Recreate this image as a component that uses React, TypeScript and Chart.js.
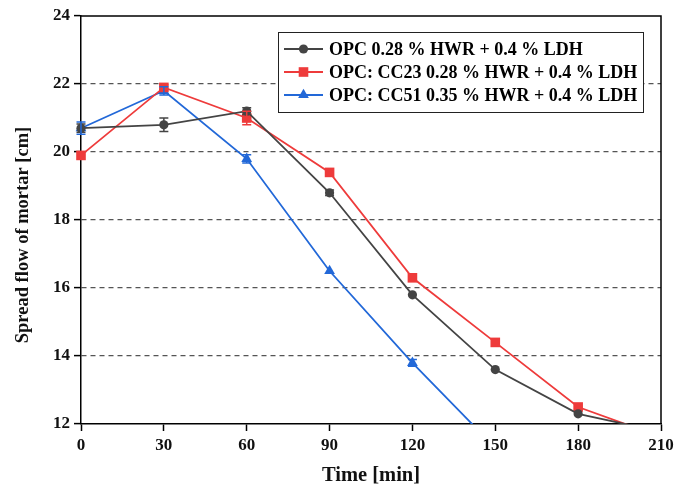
import React, { useEffect, useRef } from "react";
import { Chart, registerables } from "chart.js";

Chart.register(...registerables);

const times = [0, 30, 60, 90, 120, 150, 180, 210];
const seriesLabels = [
  "OPC 0.28 % HWR + 0.4 % LDH",
  "OPC: CC23 0.28 % HWR + 0.4 % LDH",
  "OPC: CC51 0.35 % HWR + 0.4 % LDH",
];
const opcValues = [20.7, 20.8, 21.2, 18.8, 15.8, 13.6, 12.3, 11.77];
const cc23Values = [19.9, 21.9, 21.0, 19.4, 16.3, 14.4, 12.5, 11.62];
const cc51Values = [20.7, 21.8, 19.8, 16.5, 13.8, 11.3];
const opcErrors = [0.12, 0.2, 0.1, 0.08, 0, 0, 0, 0];
const cc23Errors = [0, 0.08, 0.2, 0, 0, 0, 0, 0];
const cc51Errors = [0.18, 0.12, 0.12, 0, 0.1, 0];
const yTicks = [12, 14, 16, 18, 20, 22, 24];
const xTicks = [0, 30, 60, 90, 120, 150, 180, 210];
const xTitle = "Time [min]";
const yTitle = "Spread flow of mortar [cm]";

const colors = ["#444444", "#ee3b3b", "#2268d8"];
const pointStyles = ["circle", "rect", "triangle"];
const pointRadii = [4.6, 6.8, 6.2];
const FONT = "'Liberation Serif', 'Times New Roman', serif";

function toPoints(vals: number[]) {
  return vals.map((v, i) => ({ x: times[i], y: v }));
}

const errorBarPlugin = {
  id: "errorBars",
  afterDatasetsDraw(chart: any) {
    const ctx = chart.ctx;
    const xs = chart.scales.x;
    const ys = chart.scales.y;
    const errs = [opcErrors, cc23Errors, cc51Errors];
    chart.data.datasets.forEach((ds: any, di: number) => {
      const e = errs[di];
      ctx.save();
      ctx.strokeStyle = colors[di];
      ctx.lineWidth = 1.5;
      ds.data.forEach((p: any, i: number) => {
        const err = e[i];
        if (!err || p.y < 12) return;
        const px = xs.getPixelForValue(p.x);
        const top = ys.getPixelForValue(p.y + err);
        const bot = ys.getPixelForValue(p.y - err);
        ctx.beginPath();
        ctx.moveTo(px, top);
        ctx.lineTo(px, bot);
        ctx.moveTo(px - 4.5, top);
        ctx.lineTo(px + 4.5, top);
        ctx.moveTo(px - 4.5, bot);
        ctx.lineTo(px + 4.5, bot);
        ctx.stroke();
      });
      ctx.restore();
    });
  },
};

function drawMarker(ctx: CanvasRenderingContext2D, style: string, x: number, y: number, r: number) {
  ctx.beginPath();
  if (style === "circle") {
    ctx.arc(x, y, r, 0, Math.PI * 2);
  } else if (style === "rect") {
    const s = Math.SQRT1_2 * r;
    ctx.rect(x - s, y - s, 2 * s, 2 * s);
  } else {
    const half = (r * Math.sqrt(3)) / 2;
    ctx.moveTo(x, y - r);
    ctx.lineTo(x + half, y + r / 2);
    ctx.lineTo(x - half, y + r / 2);
    ctx.closePath();
  }
  ctx.fill();
}

const boxLegendPlugin = {
  id: "boxLegend",
  afterDraw(chart: any) {
    const ctx = chart.ctx;
    const a = chart.chartArea;
    ctx.save();
    // plot frame
    ctx.strokeStyle = "#000";
    ctx.lineWidth = 1.5;
    ctx.beginPath();
    ctx.moveTo(a.left, a.top);
    ctx.lineTo(a.right, a.top);
    ctx.lineTo(a.right, a.bottom);
    ctx.stroke();
    // y title
    ctx.save();
    ctx.translate(23, 235);
    ctx.rotate(-Math.PI / 2);
    ctx.font = "bold 18.5px " + FONT;
    ctx.fillStyle = "#111";
    ctx.textAlign = "center";
    ctx.textBaseline = "middle";
    ctx.fillText(yTitle, 0, 0);
    ctx.restore();
    // legend
    const lx = 278, ly = 32, lw = 365, lh = 80;
    ctx.fillStyle = "#fff";
    ctx.fillRect(lx, ly, lw, lh);
    ctx.strokeStyle = "#222";
    ctx.lineWidth = 1;
    ctx.strokeRect(lx + 0.5, ly + 0.5, lw, lh);
    const rows = [49, 72, 95];
    ctx.font = "bold 18px " + FONT;
    ctx.textBaseline = "middle";
    seriesLabels.forEach((lab, i) => {
      const y = rows[i];
      ctx.strokeStyle = colors[i];
      ctx.lineWidth = 1.8;
      ctx.beginPath();
      ctx.moveTo(284, y);
      ctx.lineTo(323, y);
      ctx.stroke();
      ctx.fillStyle = colors[i];
      drawMarker(ctx, pointStyles[i], 303.5, y, pointRadii[i]);
      ctx.fillStyle = "#000";
      ctx.fillText(lab, 329, y + 1);
    });
    ctx.restore();
  },
};

export default function App() {
  const ref = useRef<HTMLCanvasElement | null>(null);
  useEffect(() => {
    document.body.style.margin = "0";
    const canvas = ref.current!;
    const datasets = [opcValues, cc23Values, cc51Values].map((vals, i) => ({
      label: seriesLabels[i],
      data: toPoints(vals),
      borderColor: colors[i],
      backgroundColor: colors[i],
      borderWidth: 1.8,
      pointStyle: pointStyles[i],
      pointRadius: pointRadii[i],
      pointBorderWidth: 0,
      pointBackgroundColor: colors[i],
      tension: 0,
      clip: { left: 10, top: 10, right: 0, bottom: 0 },
    }));
    const chart = new Chart(canvas, {
      type: "line",
      data: { datasets },
      plugins: [errorBarPlugin, boxLegendPlugin],
      options: {
        animation: false,
        responsive: false,
        devicePixelRatio: 1,
        layout: { padding: { left: 0, top: 16, right: 25, bottom: 0 } },
        plugins: { legend: { display: false }, tooltip: { enabled: false } },
        scales: {
          x: {
            type: "linear",
            min: 0,
            max: 210,
            afterBuildTicks(scale: any) {
              scale.ticks = xTicks.map((v) => ({ value: v }));
            },
            afterFit(scale: any) {
              scale.height = 64;
            },
            grid: {
              drawOnChartArea: false,
              drawTicks: true,
              tickLength: 7,
              tickColor: "#000",
              tickWidth: 1.5,
            },
            border: { display: true, color: "#000", width: 1.5 },
            ticks: {
              color: "#111",
              padding: 4,
              font: { family: FONT, size: 17, weight: "bold" },
              maxRotation: 0,
            },
            title: {
              display: true,
              text: xTitle,
              color: "#111",
              font: { family: FONT, size: 20.5, weight: "bold" },
              padding: { top: 0, bottom: 0 },
            },
          },
          y: {
            type: "linear",
            min: 12,
            max: 24,
            afterBuildTicks(scale: any) {
              scale.ticks = yTicks.map((v) => ({ value: v }));
            },
            afterFit(scale: any) {
              scale.width = 81;
            },
            grid: {
              drawOnChartArea: true,
              drawTicks: true,
              tickLength: 7,
              tickColor: "#000",
              tickWidth: 1.5,
              lineWidth: 1.2,
              color: (c: any) =>
                c.tick && (c.tick.value === 12 || c.tick.value === 24)
                  ? "rgba(0,0,0,0)"
                  : "#555",
            },
            border: { display: true, color: "#000", width: 1.5, dash: [5, 4] },
            ticks: {
              color: "#111",
              padding: 4,
              font: { family: FONT, size: 17, weight: "bold" },
            },
            title: { display: false },
          },
        },
      },
    });
    return () => chart.destroy();
  }, []);
  return <canvas ref={ref} width={686} height={488} style={{ display: "block" }} />;
}
